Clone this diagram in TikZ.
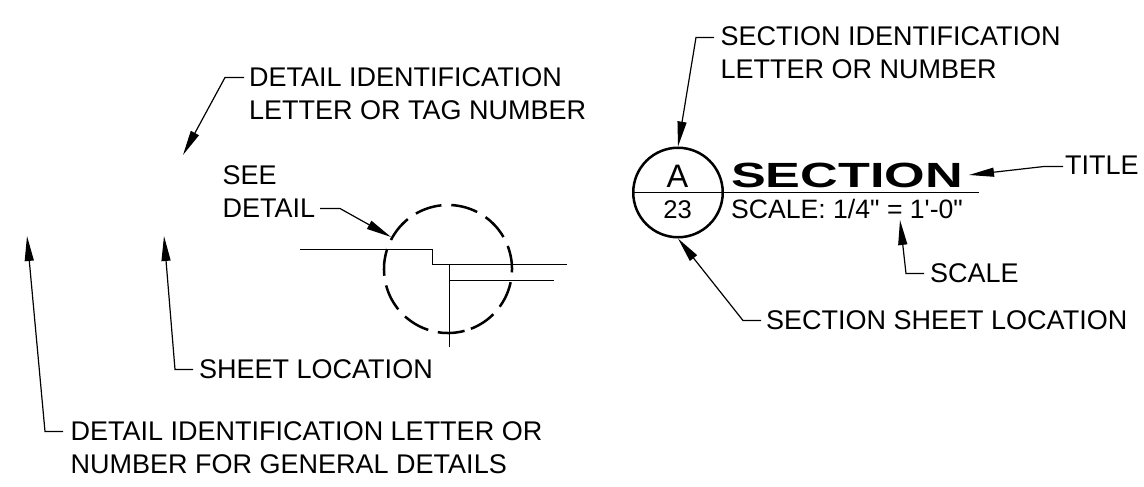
\documentclass[tikz,border=0pt]{standalone}
\usepackage{fontspec}
\setmainfont{Liberation Sans}
\newfontfamily\rawsans{Liberation Sans}
\usetikzlibrary{arrows.meta,calc}
\tikzset{
  lbl/.style={anchor=base west,inner sep=0pt,align=left,font=\fontsize{27}{32.5}\selectfont},
  lead/.style={line width=1.2pt,-{Triangle[length=25pt,width=9pt]}},
  geom/.style={line width=1.2pt}
}
\begin{document}
\begin{tikzpicture}[x=1pt,y=-1pt]
\useasboundingbox (0,0) rectangle (1144,487);
% right: section symbol
\node[draw,circle,line width=2.5pt,minimum size=89.5pt,inner sep=0pt] (sym) at (678,192.5) {};
\coordinate (ruleend) at (978.5,192.5);
\draw[geom] (sym.west) -- (ruleend);
\node[anchor=base,inner sep=0pt,font=\fontsize{32.5}{36}\selectfont] (letter) at (677.5,187) {A};
\node[anchor=base,inner sep=0pt,font=\fontsize{25.6}{30}\selectfont] (sheetnum) at (677.5,218) {23};
\node[anchor=base west,inner sep=0pt,font=\fontsize{35}{40}\selectfont\bfseries] (sectitle) at (731,187) {\scalebox{1.49}[1]{SECTION}};
\node[anchor=base west,inner sep=0pt,font=\fontsize{26.6}{30}\rawsans\selectfont] (secscale) at (731,218) {SCALE: 1/4" = 1'-0"};
\node[lbl] (secid) at (720.5,78) {SECTION IDENTIFICATION\\LETTER OR NUMBER};
\node[lbl] (title) at (1065,174) {TITLE};
\node[lbl] (scale) at (930,282) {SCALE};
\node[lbl] (secsheet) at (766,329) {SECTION SHEET LOCATION};
\coordinate (e1) at (714,37.5); \coordinate (k1) at (696,37.5);
\coordinate (e2) at (1063,166.5); \coordinate (k2) at (1044,166.5); \coordinate (t2) at (969,175);
\coordinate (e3) at (924,273.5); \coordinate (k3) at (906,273.5); \coordinate (t3) at (900,220);
\coordinate (e4) at (761,320.5); \coordinate (k4) at (743,320.5);
\draw[lead] (e1) -- (k1) -- (sym.north);
\draw[lead] (e2) -- (k2) -- (t2);
\draw[lead] (e3) -- (k3) -- (t3);
\draw[lead] (e4) -- (k4) -- (sym.south);
% left: detail
\node[lbl] (detid) at (249,119) {DETAIL IDENTIFICATION\\LETTER OR TAG NUMBER};
\node[lbl] (seedet) at (222.5,217) {SEE\\DETAIL};
\node[lbl] (sheetloc) at (199,378) {SHEET LOCATION};
\node[lbl] (general) at (70.5,473) {DETAIL IDENTIFICATION LETTER OR\\NUMBER FOR GENERAL DETAILS};
\coordinate (e5) at (244,77.5); \coordinate (k5) at (225,77.5); \coordinate (t5) at (183,155);
\coordinate (e6) at (320,208.5); \coordinate (k6) at (340,208.5); \coordinate (t6) at (391,237);
\coordinate (e7) at (193,369.5); \coordinate (k7) at (175,369.5); \coordinate (t7) at (164,236);
\coordinate (e8) at (63,431.5); \coordinate (k8) at (45,431.5); \coordinate (t8) at (27,236);
\draw[lead] (e5) -- (k5) -- (t5);
\draw[lead] (e6) -- (k6) -- (t6);
\draw[lead] (e7) -- (k7) -- (t7);
\draw[lead] (e8) -- (k8) -- (t8);
\coordinate (c) at (448,269);
\draw[line width=2.5pt,dash pattern=on 27pt off 9.85pt] ($(c)+(75:64)$) arc[start angle=75,delta angle=360,radius=64];
\coordinate (s1) at (300,249.5); \coordinate (s2) at (432.5,249.5); \coordinate (s3) at (432.5,264.5); \coordinate (s4) at (567,264.5);
\coordinate (s5) at (449.5,280.5); \coordinate (s6) at (554,280.5); \coordinate (s7) at (449.5,264.5); \coordinate (s8) at (449.5,347);
\draw[geom] (s1) -- (s2) -- (s3) -- (s4);
\draw[geom] (s5) -- (s6);
\draw[geom] (s7) -- (s8);
\end{tikzpicture}
\end{document}
